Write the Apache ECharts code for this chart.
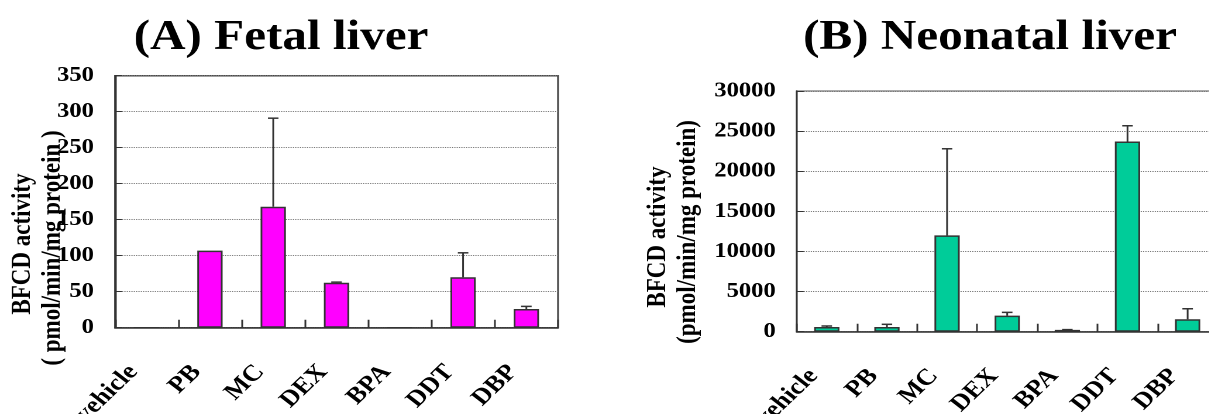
<!DOCTYPE html>
<html>
<head>
<meta charset="utf-8">
<script src="https://cdn.jsdelivr.net/npm/echarts@6/dist/echarts.min.js"></script>
<style>
  html, body { margin: 0; padding: 0; background: #fff; overflow: hidden; }
  #wrap { width: 1209px; height: 414px; overflow: hidden; }
  #chart { height: 414px; transform-origin: 0 0; }
</style>
</head>
<body>
<div id="wrap"><div id="chart"></div></div>
<script>
// BFCD activity after treatment, fetal (A) and neonatal (B) liver
const categories = ['vehicle', 'PB', 'MC', 'DEX', 'BPA', 'DDT', 'DBP'];

const fetalMean = [0, 107, 168, 62.5, 0, 70, 26];
const fetalSD   = [0, 0, 123, 0.8, 0, 34, 3.6];

const neonatalMean = [580, 580, 12000, 2000, 220, 23700, 1550];
const neonatalSD   = [130, 340, 10800, 410, 40, 1970, 1310];

const fetalAxis    = { min: 0, max: 350, interval: 50 };
const neonatalAxis = { min: 0, max: 30000, interval: 5000 };

const titles   = ['(A) Fetal liver', '(B) Neonatal liver'];
const yNames   = [['BFCD activity', '( pmol/min/mg protein )'],
                  ['BFCD activity', '(pmol/min/mg protein)']];

// The figure type is set wide: the canvas is drawn narrower and stretched horizontally.
const W = 1209, H = 414, S = 1.17;
const px = v => v / S;

const el = document.getElementById('chart');
el.style.width = (W / S) + 'px';
el.style.transform = 'scaleX(' + S + ')';

const SERIF = "'Liberation Serif', 'Times New Roman', serif";
const INK = '#000';

const chart = echarts.init(el, null, { renderer: 'canvas', devicePixelRatio: 2 });

function xAxisFor(gridIndex) {
  return {
    type: 'category', gridIndex, data: categories,
    axisLine: { lineStyle: { color: '#333', width: 1.5 } },
    axisTick: { show: true, inside: true, length: 8, lineStyle: { color: '#333', width: 1.5 } },
    axisLabel: {
      rotate: 48, margin: 28, color: INK,
      // padding nudges the slanted labels left of their category centre
      padding: [0, 17, 26, 0],
      fontFamily: SERIF, fontWeight: 'bold', fontSize: 23
    },
    splitLine: { show: false }
  };
}

function yAxisFor(gridIndex, range) {
  return {
    type: 'value', gridIndex, min: range.min, max: range.max, interval: range.interval,
    axisLine: { show: true, lineStyle: { color: '#333', width: 1.5 } },
    axisTick: { show: true, inside: true, length: 6, lineStyle: { color: '#333' } },
    axisLabel: {
      margin: 18, color: INK, fontFamily: SERIF, fontWeight: 'bold', fontSize: 21,
      formatter: v => String(v)
    },
    splitLine: { show: true, lineStyle: { color: '#777', type: 'dotted', width: 1 } }
  };
}

function errorBars(xi, yi, mean, sd) {
  return {
    type: 'custom', xAxisIndex: xi, yAxisIndex: yi, z: 5,
    data: categories.map((c, i) => [i, mean[i], sd[i]]),
    encode: { x: 0, y: 1 },
    renderItem: function (params, api) {
      const i = api.value(0), m = api.value(1), e = api.value(2);
      if (!e) return;
      const base = api.coord([i, m]);
      const top = api.coord([i, m + e]);
      const hw = 4.5;
      const st = { stroke: '#333', lineWidth: 1.5 };
      return {
        type: 'group',
        children: [
          { type: 'line', shape: { x1: base[0], y1: base[1], x2: top[0], y2: top[1] }, style: st },
          { type: 'line', shape: { x1: top[0] - hw, y1: top[1], x2: top[0] + hw, y2: top[1] }, style: st }
        ]
      };
    }
  };
}

function titleText(cx, text) {
  return {
    type: 'text', x: px(cx), y: 38,
    style: {
      text, font: 'bold 42px ' + SERIF, fill: '#000',
      textAlign: 'center', align: 'center',
      textVerticalAlign: 'middle', verticalAlign: 'middle'
    }
  };
}

function nameText(cx, cy, text) {
  return {
    type: 'text', x: px(cx), y: cy, rotation: Math.PI / 2,
    style: {
      text, font: 'bold 23px ' + SERIF, fill: INK,
      textAlign: 'center', align: 'center',
      textVerticalAlign: 'middle', verticalAlign: 'middle'
    }
  };
}

chart.setOption({
  animation: false,
  backgroundColor: '#fff',
  grid: [
    { left: px(115), top: 75.7, width: px(443), height: 252,
      show: true, borderColor: '#444', borderWidth: 1.5, backgroundColor: 'transparent',
      outerBoundsMode: 'none' },
    { left: px(796.7), top: 91, width: px(421), height: 240.7,
      show: true, borderColor: '#777', borderWidth: 1.2, backgroundColor: 'transparent',
      outerBoundsMode: 'none' }
  ],
  xAxis: [xAxisFor(0), xAxisFor(1)],
  yAxis: [yAxisFor(0, fetalAxis), yAxisFor(1, neonatalAxis)],
  series: [
    { type: 'bar', xAxisIndex: 0, yAxisIndex: 0, data: fetalMean, barWidth: '40%',
      itemStyle: { color: '#FF00FF', borderColor: '#333', borderWidth: 1.5 } },
    { type: 'bar', xAxisIndex: 1, yAxisIndex: 1, data: neonatalMean, barWidth: '42%',
      itemStyle: { color: '#00CC99', borderColor: '#333', borderWidth: 1.5 } },
    errorBars(0, 0, fetalMean, fetalSD),
    errorBars(1, 1, neonatalMean, neonatalSD)
  ],
  graphic: [
    titleText(281, titles[0]),
    titleText(990, titles[1]),
    nameText(23, 244, yNames[0][0]),
    nameText(53, 248, yNames[0][1]),
    nameText(658, 237, yNames[1][0]),
    nameText(688, 232, yNames[1][1])
  ]
});
</script>
</body>
</html>
